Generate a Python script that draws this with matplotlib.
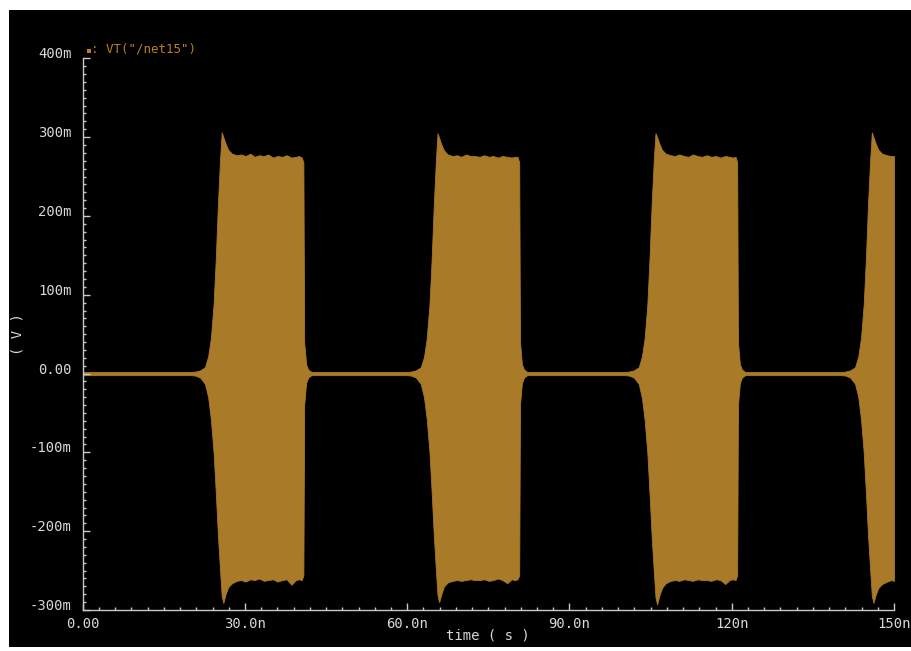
import matplotlib
matplotlib.use("Agg")
import matplotlib.pyplot as plt
from matplotlib.patches import Rectangle
from matplotlib.ticker import MultipleLocator

# ---- data (time in ns, voltage in mV) ----
b1_t = [0.0, 20.0, 20.8, 21.7, 22.6, 23.2, 23.7, 24.2, 24.6, 25.0, 25.4, 25.7, 26.0, 26.4, 26.9, 27.6, 28.5, 29.3, 30.1, 31.0, 31.8, 32.6, 33.5, 34.3, 35.2, 36.0, 36.9, 37.7, 38.6, 39.4, 40.0, 40.5, 40.8, 40.95, 41.3, 41.7, 42.2]
b1_hi = [2, 2, 2.5, 4, 8, 22, 45, 88, 145, 215, 272, 306, 300, 292, 284, 279, 277, 278, 276, 279, 275, 277, 276, 278, 274, 276, 275, 277, 274, 275, 276, 274, 268, 40, 12, 5, 2.5]
b1_lo = [-2, -2, -2.5, -5, -13, -30, -58, -100, -150, -205, -250, -282, -291, -280, -271, -266, -263, -262, -264, -261, -262, -260, -263, -262, -261, -264, -262, -261, -268, -262, -261, -262, -256, -40, -12, -5, -2.5]

b2_t = [42.2, 59.9, 60.7, 61.6, 62.5, 63.1, 63.6, 64.1, 64.5, 64.9, 65.3, 65.6, 65.9, 66.3, 66.8, 67.5, 68.4, 69.2, 70.0, 70.9, 71.7, 72.5, 73.4, 74.2, 75.1, 75.9, 76.8, 77.6, 78.5, 79.3, 79.9, 80.4, 80.7, 80.85, 81.2, 81.6, 82.1]
b2_hi = [2, 2, 2.5, 4, 8, 21, 44, 86, 142, 212, 270, 305, 299, 291, 283, 278, 276, 277, 275, 278, 276, 276, 275, 277, 275, 276, 274, 276, 275, 274, 275, 275, 268, 40, 12, 5, 2.5]
b2_lo = [-2, -2, -2.5, -5, -13, -30, -57, -98, -148, -203, -249, -281, -290, -280, -270, -265, -263, -262, -263, -262, -261, -262, -262, -261, -263, -262, -260, -262, -266, -261, -262, -261, -256, -40, -12, -5, -2.5]

b3_t = [82.1, 100.2, 101.0, 101.9, 102.8, 103.4, 103.9, 104.4, 104.8, 105.2, 105.6, 105.9, 106.2, 106.6, 107.1, 107.8, 108.7, 109.5, 110.3, 111.2, 112.0, 112.8, 113.7, 114.5, 115.4, 116.2, 117.1, 117.9, 118.8, 119.6, 120.2, 120.7, 121.0, 121.15, 121.5, 121.9, 122.4]
b3_hi = [2, 2, 2.5, 4, 8, 22, 45, 88, 146, 216, 272, 305, 300, 292, 284, 279, 277, 276, 278, 276, 275, 278, 276, 275, 277, 275, 276, 274, 276, 275, 274, 275, 268, 40, 12, 5, 2.5]
b3_lo = [-2, -2, -2.5, -5, -13, -31, -59, -101, -152, -207, -252, -284, -293, -282, -272, -266, -263, -262, -263, -261, -262, -263, -261, -262, -262, -263, -261, -262, -267, -262, -261, -262, -256, -40, -12, -5, -2.5]

b4_t = [122.4, 140.2, 141.0, 141.9, 142.8, 143.4, 143.9, 144.4, 144.8, 145.2, 145.6, 145.9, 146.2, 146.6, 147.1, 147.8, 148.7, 149.5, 150.0]
b4_hi = [2, 2, 2.5, 4, 8, 22, 45, 88, 145, 215, 272, 306, 300, 292, 284, 279, 277, 276, 276]
b4_lo = [-2, -2, -2.5, -5, -13, -30, -58, -100, -150, -205, -250, -282, -291, -281, -272, -267, -264, -262, -263]

x_ticks = [0, 30, 60, 90, 120, 150]
x_labels = ["0.00", "30.0n", "60.0n", "90.0n", "120n", "150n"]
y_ticks = [400, 300, 200, 100, 0, -100, -200, -300]
y_labels = ["400m", "300m", "200m", "100m", "0.00", "-100m", "-200m", "-300m"]
legend_text = ": VT(\"/net15\")"

# ---- styling ----
W, H = 911, 651
wave = "#A97A28"
legtxt = "#B8801E"
grey = "#C8C8C8"
font = "DejaVu Sans Mono"

fig = plt.figure(figsize=(W / 100, H / 100), dpi=100, facecolor="white")
fig.add_artist(Rectangle((9 / W, 4 / H), 1 - 9 / W, (H - 14) / H,
                         transform=fig.transFigure, facecolor="black",
                         edgecolor="none", zorder=0))

ax_l, ax_r, ax_t, ax_b = 82.7, 894.0, 58.3, 610.0
ax = fig.add_axes([ax_l / W, (H - ax_b) / H, (ax_r - ax_l) / W, (ax_b - ax_t) / H])
ax.set_facecolor("none")
ax.set_zorder(1)

for t, hi, lo in [(b1_t, b1_hi, b1_lo), (b2_t, b2_hi, b2_lo),
                  (b3_t, b3_hi, b3_lo), (b4_t, b4_hi, b4_lo)]:
    ax.fill_between(t, lo, hi, color=wave, linewidth=0.6, edgecolor=wave)

ax.set_xlim(0, 150)
ax.set_ylim(-300, 400)

for s in ["top", "right"]:
    ax.spines[s].set_visible(False)
for s in ["left", "bottom"]:
    ax.spines[s].set_color(grey)
    ax.spines[s].set_linewidth(1.0)

ax.set_xticks(x_ticks)
ax.set_xticklabels(x_labels)
ax.set_yticks(y_ticks)
ax.set_yticklabels(y_labels)
ax.xaxis.set_minor_locator(MultipleLocator(3))
ax.yaxis.set_minor_locator(MultipleLocator(10))
ax.tick_params(which="major", direction="in", length=5, width=1, color=grey,
               labelcolor="#D8D8D8", labelsize=10)
ax.tick_params(which="minor", direction="in", length=2.5, width=1, color=grey)
ax.tick_params(axis="y", which="major", pad=8)
ax.tick_params(axis="x", which="major", pad=5)
for lab in ax.get_yticklabels():
    lab.set_fontfamily(font)
    lab.set_verticalalignment("baseline")
for lab in ax.get_xticklabels():
    lab.set_fontfamily(font)

ax.set_xlabel("time ( s )", color="#D8D8D8", fontsize=10, family=font, labelpad=-2)
ax.set_ylabel("( V )", color="#D8D8D8", fontsize=10, family=font)
ax.yaxis.set_label_coords(-(ax_l - 24) / (ax_r - ax_l), 0.5)

# legend: small square marker + trace name
fig.add_artist(Rectangle((87 / W, (H - 53) / H), 4 / W, 4 / H,
                         transform=fig.transFigure, facecolor=legtxt,
                         edgecolor="none", zorder=3))
fig.text(91 / W, (H - 52) / H, legend_text, color=legtxt, fontsize=9,
         family=font, va="baseline", ha="left")

fig.savefig("out.png", dpi=100, facecolor="white")
